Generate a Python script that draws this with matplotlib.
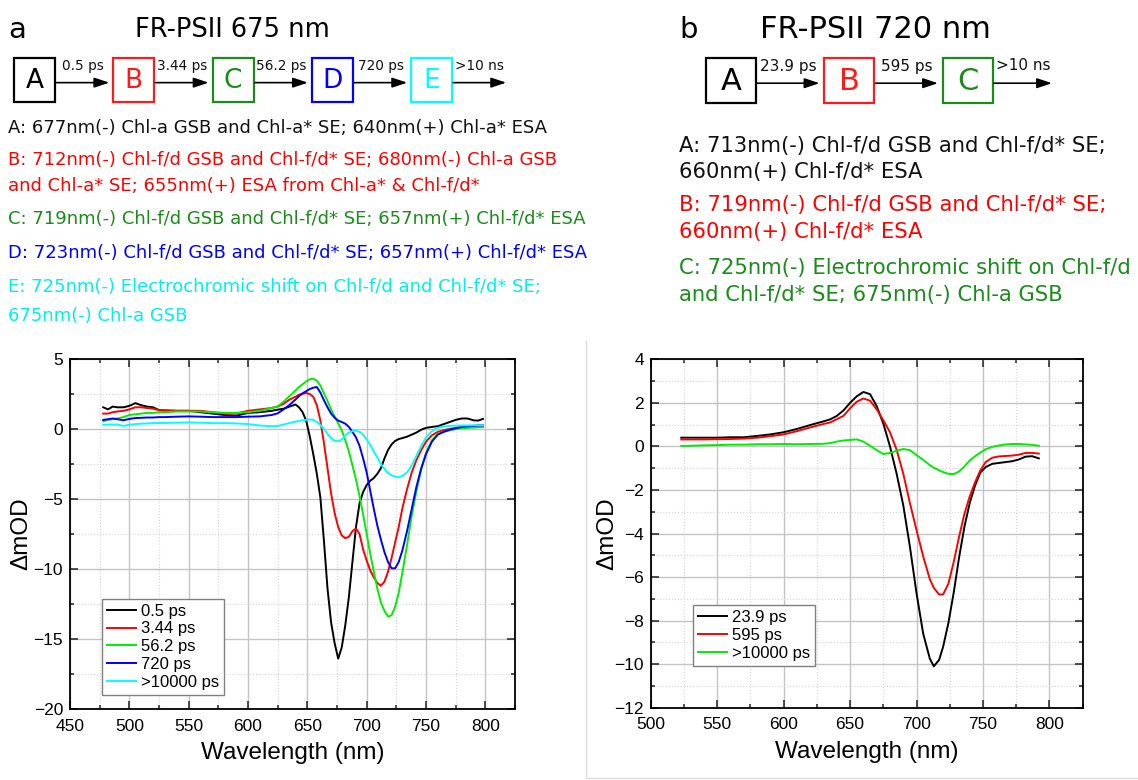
import matplotlib
matplotlib.use('Agg')
import matplotlib.pyplot as plt
from matplotlib.patches import Rectangle
from matplotlib.ticker import MultipleLocator

# ---------------- panel a : FR-PSII, 675 nm excitation ----------------
wl_a = [478, 482, 486, 490, 495, 500, 505, 510, 515, 520, 525, 530, 540, 550, 560,
        570, 580, 590, 600, 610, 620, 625, 630, 635, 640, 643, 646, 649, 652, 655,
        658, 661, 664, 667, 670, 673, 676, 679, 682, 685, 688, 691, 694, 697, 700,
        703, 706, 709, 712, 715, 718, 721, 724, 727, 730, 734, 738, 742, 746, 750,
        755, 760, 765, 770, 775, 780, 785, 790, 794, 798]

das_0p5 = [1.55, 1.4, 1.6, 1.55, 1.55, 1.65, 1.85, 1.7, 1.6, 1.55, 1.35, 1.3, 1.3, 1.3, 1.2,
           1.1, 1.0, 0.95, 1.15, 1.2, 1.3, 1.38, 1.45, 1.6, 1.75, 1.55, 1.2, 0.6, -0.5, -1.8,
           -3.2, -4.9, -8.0, -11.4, -13.8, -15.3, -16.4, -15.6, -14.0, -12.0, -9.5, -7.0, -5.3, -4.5, -4.0,
           -3.7, -3.5, -3.2, -2.8, -2.1, -1.5, -1.1, -0.85, -0.72, -0.65, -0.55, -0.4, -0.25, -0.05, 0.08,
           0.15, 0.2, 0.35, 0.5, 0.65, 0.75, 0.75, 0.62, 0.6, 0.72]

das_3p44 = [1.1, 1.1, 1.2, 1.25, 1.3, 1.4, 1.55, 1.55, 1.5, 1.45, 1.35, 1.35, 1.3, 1.3, 1.3,
            1.2, 1.1, 1.1, 1.3, 1.4, 1.5, 1.6, 1.8, 2.1, 2.3, 2.45, 2.52, 2.57, 2.5, 2.3,
            1.7, 0.6, -1.0, -2.8, -4.6, -6.0, -7.0, -7.6, -7.8, -7.7, -7.3, -7.1, -7.5, -8.6, -9.4,
            -10.1, -10.6, -11.0, -11.2, -10.9, -10.2, -9.2, -8.1, -7.0, -5.7, -4.3, -3.1, -2.2, -1.5, -0.9,
            -0.45, -0.2, -0.08, 0.0, 0.08, 0.15, 0.2, 0.22, 0.24, 0.25]

das_56p2 = [0.55, 0.65, 0.7, 0.75, 0.85, 1.0, 1.05, 1.1, 1.15, 1.15, 1.2, 1.2, 1.25, 1.25, 1.25,
            1.2, 1.15, 1.15, 1.2, 1.3, 1.5, 1.62, 1.95, 2.35, 2.75, 3.0, 3.2, 3.4, 3.55, 3.6,
            3.45, 3.1, 2.55, 2.0, 1.4, 0.9, 0.4, -0.1, -0.8, -1.6, -2.6, -3.6, -4.8, -6.1, -7.5,
            -8.9, -10.2, -11.4, -12.4, -13.0, -13.4, -13.3, -12.7, -11.7, -10.3, -8.3, -6.2, -4.4, -2.9, -1.7,
            -0.8, -0.35, -0.2, -0.1, 0.0, 0.05, 0.08, 0.1, 0.12, 0.13]

das_720 = [0.65, 0.7, 0.75, 0.7, 0.62, 0.72, 0.78, 0.8, 0.82, 0.82, 0.85, 0.85, 0.88, 0.9, 0.88,
           0.85, 0.85, 0.85, 0.88, 0.9, 1.0, 1.12, 1.4, 1.72, 2.1, 2.35, 2.55, 2.7, 2.85, 2.95,
           3.0, 2.6, 2.05, 1.55, 1.1, 0.8, 0.6, 0.5, 0.38, 0.15, -0.2, -0.6, -1.2, -2.1, -3.1,
           -4.4, -5.7, -6.9, -7.9, -8.8, -9.5, -9.95, -9.95, -9.5, -8.7, -7.3, -5.7, -4.1, -2.8, -1.8,
           -0.9, -0.4, -0.2, -0.05, 0.05, 0.15, 0.2, 0.22, 0.24, 0.25]

das_10000 = [0.3, 0.32, 0.32, 0.32, 0.22, 0.3, 0.35, 0.38, 0.4, 0.42, 0.43, 0.43, 0.45, 0.47, 0.45,
             0.42, 0.42, 0.4, 0.35, 0.25, 0.2, 0.22, 0.32, 0.43, 0.52, 0.58, 0.62, 0.65, 0.68, 0.65,
             0.5, 0.3, 0.0, -0.35, -0.65, -0.85, -0.88, -0.75, -0.45, -0.25, -0.15, -0.12, -0.2, -0.4, -0.75,
             -1.15, -1.6, -2.05, -2.5, -2.85, -3.15, -3.3, -3.4, -3.45, -3.35, -3.1, -2.6, -1.9, -1.2, -0.6,
             -0.15, 0.08, 0.18, 0.22, 0.24, 0.25, 0.26, 0.26, 0.26, 0.26]

series_a = [das_0p5, das_3p44, das_56p2, das_720, das_10000]
labels_a = ['0.5 ps', '3.44 ps', '56.2 ps', '720 ps', '>10000 ps']
colors_a = ['#000000', '#ff0000', '#00ee00', '#0000ff', '#00ffff']

# ---------------- panel b : FR-PSII, 720 nm excitation ----------------
wl_b = [523, 530, 540, 550, 560, 570, 580, 590, 600, 610, 620, 630, 635, 640, 645,
        650, 655, 660, 665, 670, 675, 680, 685, 690, 695, 700, 705, 710, 713, 717,
        720, 724, 728, 732, 736, 740, 744, 748, 752, 757, 762, 767, 772, 777, 782,
        787, 792]

das_23p9 = [0.4, 0.4, 0.4, 0.4, 0.42, 0.42, 0.48, 0.55, 0.65, 0.8, 0.98, 1.15, 1.24, 1.4, 1.65,
            2.0, 2.3, 2.5, 2.4, 1.85, 1.05, 0.0, -1.25, -2.7, -4.6, -6.75, -8.6, -9.75, -10.1, -9.8,
            -9.2, -8.1, -6.7, -5.1, -3.7, -2.6, -1.8, -1.2, -0.95, -0.8, -0.76, -0.72, -0.68, -0.6, -0.47,
            -0.45, -0.55]

das_595 = [0.32, 0.32, 0.32, 0.33, 0.34, 0.36, 0.4, 0.47, 0.55, 0.7, 0.87, 1.03, 1.1, 1.25, 1.4,
           1.75, 2.05, 2.2, 2.1, 1.7, 1.2, 0.65, -0.15, -1.25, -2.6, -3.85, -5.05, -6.1, -6.5, -6.8,
           -6.8, -6.3, -5.3, -4.15, -3.1, -2.3, -1.65, -1.1, -0.72, -0.52, -0.46, -0.44, -0.42, -0.38, -0.3,
           -0.3, -0.33]

das_b_10000 = [0.02, 0.03, 0.05, 0.06, 0.08, 0.08, 0.1, 0.1, 0.11, 0.1, 0.11, 0.12, 0.15, 0.22, 0.27,
               0.3, 0.32, 0.22, 0.03, -0.17, -0.35, -0.3, -0.2, -0.12, -0.17, -0.4, -0.62, -0.86, -0.98, -1.1,
               -1.18, -1.26, -1.27, -1.15, -0.92, -0.65, -0.45, -0.28, -0.13, -0.02, 0.04, 0.09, 0.11, 0.11, 0.09,
               0.07, 0.03]

series_b = [das_23p9, das_595, das_b_10000]
labels_b = ['23.9 ps', '595 ps', '>10000 ps']
colors_b = ['#000000', '#ff0000', '#00ee00']

# ---------------- kinetic schemes + assignments ----------------
states_a = ['A', 'B', 'C', 'D', 'E']
state_cols_a = ['#000000', '#ff1a1a', '#1a8c1a', '#0000ff', '#00ffff']
times_a = ['0.5 ps', '3.44 ps', '56.2 ps', '720 ps', '>10 ns']

states_b = ['A', 'B', 'C']
state_cols_b = ['#000000', '#ff1a1a', '#1a8c1a']
times_b = ['23.9 ps', '595 ps', '>10 ns']

txt_cols = {'k': '#111111', 'r': '#ff0000', 'g': '#1a8c1a', 'b': '#0000ff', 'c': '#00eeee'}

notes_a = [
    ('k', ['A: 677nm(-) Chl-a GSB and Chl-a* SE; 640nm(+) Chl-a* ESA']),
    ('r', ['B: 712nm(-) Chl-f/d GSB and Chl-f/d* SE; 680nm(-) Chl-a GSB',
           'and Chl-a* SE; 655nm(+) ESA from Chl-a* & Chl-f/d*']),
    ('g', ['C: 719nm(-) Chl-f/d GSB and Chl-f/d* SE; 657nm(+) Chl-f/d* ESA']),
    ('b', ['D: 723nm(-) Chl-f/d GSB and Chl-f/d* SE; 657nm(+) Chl-f/d* ESA']),
    ('c', ['E: 725nm(-) Electrochromic shift on Chl-f/d and Chl-f/d* SE;',
           '675nm(-) Chl-a GSB']),
]
notes_b = [
    ('k', ['A: 713nm(-) Chl-f/d GSB and Chl-f/d* SE;', '660nm(+) Chl-f/d* ESA']),
    ('r', ['B: 719nm(-) Chl-f/d GSB and Chl-f/d* SE;', '660nm(+) Chl-f/d* ESA']),
    ('g', ['C: 725nm(-) Electrochromic shift on Chl-f/d',
           'and Chl-f/d* SE; 675nm(-) Chl-a GSB']),
]

plt.rcParams['font.family'] = ['Liberation Sans', 'DejaVu Sans']

W, H = 1138, 780
fig = plt.figure(figsize=(W / 100, H / 100), dpi=100)

# overlay in pixel units for the schemes / text
lay = fig.add_axes([0, 0, 1, 1])
lay.set_xlim(0, W)
lay.set_ylim(H, 0)
lay.axis('off')


def draw_scheme(x0, step, y0, w, h, states, cols, times, last_len, gap, letter_fs, time_fs):
    ya = y0 + h * 0.56
    for i, (s, c, t) in enumerate(zip(states, cols, times)):
        x = x0 + i * step
        lay.add_patch(Rectangle((x, y0), w, h, fill=False, ec=c, lw=1.6))
        lay.text(x + w / 2, y0 + h / 2 + 1, s, color=c, fontsize=letter_fs,
                 ha='center', va='center', family='DejaVu Sans')
        xa = x + w + 1
        xb = x + step - gap if i < len(states) - 1 else xa + last_len
        lay.annotate('', xy=(xb, ya), xytext=(xa, ya),
                     arrowprops=dict(arrowstyle='-|>,head_length=0.9,head_width=0.3',
                                     color='black', lw=1.2, shrinkA=0, shrinkB=0))
        lay.text((xa + xb) / 2, y0 + 8, t, fontsize=time_fs, ha='center', va='center',
                 family='DejaVu Sans', color='#111111')


def draw_notes(x, ys, notes, fs):
    k = 0
    for key, lines in notes:
        for ln in lines:
            lay.text(x, ys[k], ln, color=txt_cols[key], fontsize=fs, ha='left',
                     va='center', family='DejaVu Sans')
            k += 1


# headings
lay.text(8, 30, 'a', fontsize=21, ha='left', va='center', family='DejaVu Sans')
lay.text(135, 30, 'FR-PSII 675 nm', fontsize=18.5, ha='left', va='center', family='DejaVu Sans')
lay.text(679, 30, 'b', fontsize=21, ha='left', va='center', family='DejaVu Sans')
lay.text(760, 30, 'FR-PSII 720 nm', fontsize=22, ha='left', va='center', family='DejaVu Sans')

draw_scheme(14, 99.3, 58, 41, 44, states_a, state_cols_a, times_a, 53, 4, 19, 9.8)
draw_scheme(706, 118.5, 58, 50, 45, states_b, state_cols_b, times_b, 58, 5, 22, 11)

draw_notes(8, [128, 160, 186, 219, 253, 287, 316], notes_a, 13)
draw_notes(679, [146, 172, 205, 232, 268, 295], notes_b, 15.2)

# thin frame around lower-right panel
lay.plot([586.5, 586.5, W], [341, 777.5, 777.5], color='#dddddd', lw=1)


def style_axes(ax, xlim, ylim, ymaj, ymin):
    ax.set_xlim(*xlim)
    ax.set_ylim(*ylim)
    ax.xaxis.set_major_locator(MultipleLocator(50))
    ax.xaxis.set_minor_locator(MultipleLocator(25))
    ax.yaxis.set_major_locator(MultipleLocator(ymaj))
    ax.yaxis.set_minor_locator(MultipleLocator(ymin))
    ax.grid(which='major', color='#c4c4c4', lw=1.0, ls='-')
    ax.grid(which='minor', color='#d6d6d6', lw=0.8, ls=':')
    ax.set_axisbelow(True)
    ax.tick_params(which='both', direction='in', top=True, right=True, width=1.1,
                   labelsize=12.5, color='#222222')
    ax.tick_params(which='major', length=6)
    ax.tick_params(which='minor', length=3)
    ax.tick_params(axis='x', pad=7)
    ax.tick_params(axis='y', pad=5)
    for sp in ax.spines.values():
        sp.set_linewidth(1.3)
    ax.set_xlabel('Wavelength (nm)', fontsize=17.5)
    ax.set_ylabel('\u0394mOD', fontsize=17.5)


leg_kw = dict(loc='lower left', fontsize=12, frameon=True, fancybox=False,
              edgecolor='#808080', framealpha=1, borderaxespad=0, handlelength=1.75,
              handletextpad=0.3, labelspacing=0.17, borderpad=0.3)

ax1 = fig.add_axes([70 / W, 1 - 709 / H, 445 / W, 350 / H])
for y, lab, c in zip(series_a, labels_a, colors_a):
    ax1.plot(wl_a, y, color=c, lw=1.4, label=lab)
style_axes(ax1, (450, 825), (-20, 5), 5, 2.5)
ax1.xaxis.set_label_coords(0.5, -0.095)
ax1.yaxis.set_label_coords(-0.085, 0.5)
ax1.legend(bbox_to_anchor=(0.071, 0.04), **leg_kw)

ax2 = fig.add_axes([650.7 / W, 1 - 707.7 / H, 432 / W, 348.4 / H])
for y, lab, c in zip(series_b, labels_b, colors_b):
    ax2.plot(wl_b, y, color=c, lw=1.4, label=lab)
style_axes(ax2, (500, 825), (-12, 4), 2, 1)
ax2.xaxis.set_label_coords(0.5, -0.095)
ax2.yaxis.set_label_coords(-0.076, 0.5)
ax2.legend(bbox_to_anchor=(0.097, 0.12), **leg_kw)

fig.savefig('out.png', dpi=100)
